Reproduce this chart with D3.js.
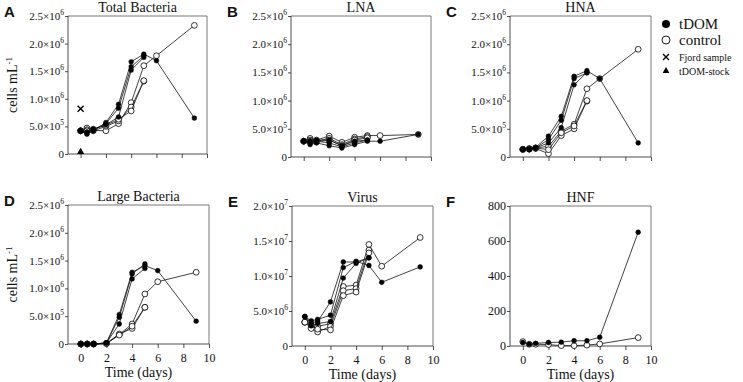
<!DOCTYPE html>
<html>
<head>
<meta charset="utf-8">
<script src="https://cdn.jsdelivr.net/npm/d3@7"></script>
<style>
  body { margin: 0; background: #fff; }
  svg, svg text { font-family: "Liberation Serif", "Times New Roman", Times, "DejaVu Serif", serif; }
  text { fill: #111; }
  .letter { font-family: "Liberation Sans", Arial, Helvetica, sans-serif !important; font-weight: bold; }
</style>
</head>
<body>
<div id="root"></div>
<script>
// sampling days: full series (one replicate followed to day 9) and short series
const days = [0, 0.5, 1, 2, 3, 4, 5, 6, 9];
const daysShort = [0, 0.5, 1, 2, 3, 4, 5];

// Total bacteria (cells/mL)
const totalTdom = [
  [4.2e5, 3.6e5, 4.2e5, 5.7e5, 9.0e5, 1.67e6, 1.81e6, 1.69e6, 6.5e5],
  [4.2e5, 3.8e5, 4.4e5, 5.5e5, 8.3e5, 1.58e6, 1.78e6],
  [4.2e5, 4.0e5, 4.5e5, 5.3e5, 6.7e5, 1.52e6, 1.75e6]
];
const totalCtrl = [
  [4.2e5, 4.7e5, 4.3e5, 4.2e5, 5.5e5, 9.3e5, 1.60e6, 1.78e6, 2.33e6],
  [4.2e5, 4.4e5, 4.2e5, 5.0e5, 6.0e5, 8.5e5, 1.32e6],
  [4.2e5, 4.2e5, 4.5e5, 5.2e5, 6.3e5, 7.8e5, 1.33e6]
];
const fjordSample = 8.2e5;
const tdomStock = 2e4;

// LNA
const lnaTdom = [
  [2.8e5, 2.2e5, 2.5e5, 2.0e5, 1.6e5, 2.2e5, 2.8e5, 2.8e5, 4.0e5],
  [2.8e5, 2.5e5, 2.8e5, 2.5e5, 1.8e5, 2.5e5, 3.0e5],
  [2.8e5, 2.8e5, 3.0e5, 3.0e5, 2.0e5, 2.8e5, 3.0e5]
];
const lnaCtrl = [
  [2.8e5, 3.3e5, 3.0e5, 3.7e5, 2.6e5, 3.5e5, 3.8e5, 3.8e5, 4.0e5],
  [2.8e5, 3.0e5, 2.8e5, 3.3e5, 2.2e5, 3.2e5, 3.6e5],
  [2.8e5, 2.8e5, 2.7e5, 3.0e5, 2.0e5, 3.0e5, 3.4e5]
];

// HNA
const hnaTdom = [
  [1.35e5, 1.5e5, 1.7e5, 3.7e5, 7.2e5, 1.43e6, 1.53e6, 1.39e6, 2.5e5],
  [1.35e5, 1.4e5, 1.6e5, 3.1e5, 6.5e5, 1.39e6, 1.49e6],
  [1.35e5, 1.3e5, 1.6e5, 2.5e5, 5.2e5, 1.28e6, 1.50e6]
];
const hnaCtrl = [
  [1.35e5, 1.4e5, 1.6e5, 1.9e5, 4.6e5, 5.8e5, 1.21e6, 1.39e6, 1.91e6],
  [1.35e5, 1.4e5, 1.5e5, 6e4, 3.8e5, 5.0e5, 9.9e5],
  [1.35e5, 1.5e5, 1.6e5, 1.3e5, 4.3e5, 5.5e5, 1.0e6]
];

// Large bacteria
const largeTdom = [
  [0, 0, 0, 2e4, 5.3e5, 1.29e6, 1.41e6, 1.32e6, 4.1e5],
  [0, 0, 0, 2e4, 4.8e5, 1.26e6, 1.44e6],
  [0, 0, 0, 2e4, 3.6e5, 1.17e6, 1.36e6]
];
const largeCtrl = [
  [0, 0, 0, 1e4, 1.7e5, 3.6e5, 9.0e5, 1.12e6, 1.29e6],
  [0, 0, 0, 1e4, 1.8e5, 2.8e5, 6.6e5],
  [0, 0, 0, 1e4, 1.6e5, 3.2e5, 6.6e5]
];

// Virus
const virusTdom = [
  [4.2e6, 3.6e6, 3.8e6, 4.4e6, 11.2e6, 12.1e6, 11.5e6, 9.1e6, 11.3e6],
  [4.2e6, 3.3e6, 3.5e6, 6.3e6, 12.0e6, 12.0e6, 12.6e6],
  [4.2e6, 2.9e6, 3.2e6, 3.5e6, 9.7e6, 11.8e6, 12.6e6]
];
const virusCtrl = [
  [3.4e6, 2.6e6, 2.8e6, 3.2e6, 8.5e6, 8.7e6, 14.5e6, 11.4e6, 15.5e6],
  [3.4e6, 2.5e6, 2.0e6, 2.8e6, 7.9e6, 8.2e6, 13.7e6],
  [3.4e6, 3.0e6, 2.4e6, 2.3e6, 7.2e6, 7.7e6, 13.3e6]
];

// HNF (cells/mL)
const hnfTdom = [[20, 10, 15, 20, 22, 30, 30, 50, 650]];
const hnfCtrl = [[25, 10, 10, 8, 2, 2, 5, 12, 48]];

const xTicks = [0, 2, 4, 6, 8, 10];
const legendLabels = ["tDOM", "control", "Fjord sample", "tDOM-stock"];

const W = 743, H = 382;
const svg = d3.select("#root").append("svg").attr("width", W).attr("height", H);

// scientific tick label like 2.5x10^6
function sciLabel(sel, v) {
  if (v === 0) { sel.text("0"); return; }
  const e = Math.floor(Math.log10(v));
  const m = (v / Math.pow(10, e)).toFixed(1);
  sel.append("tspan").text(m + "\u00d710");
  sel.append("tspan").attr("dy", -5).style("font-size", "7.5px").text(e);
}

const panels = [
  { letter: "A", title: "Total Bacteria", tdom: totalTdom, ctrl: totalCtrl, yMax: 2.5e6, yTicks: [0, 5e5, 1e6, 1.5e6, 2e6, 2.5e6],
    x0: 68, x1: 207, y0: 16, y1: 154, ylab: true, xlab: false, extra: true },
  { letter: "B", title: "LNA", tdom: lnaTdom, ctrl: lnaCtrl, yMax: 2.5e6, yTicks: [0, 5e5, 1e6, 1.5e6, 2e6, 2.5e6],
    x0: 291, x1: 431, y0: 16, y1: 157, ylab: false, xlab: false },
  { letter: "C", title: "HNA", tdom: hnaTdom, ctrl: hnaCtrl, yMax: 2.5e6, yTicks: [0, 5e5, 1e6, 1.5e6, 2e6, 2.5e6],
    x0: 510, x1: 651, y0: 16, y1: 157, ylab: false, xlab: false },
  { letter: "D", title: "Large Bacteria", tdom: largeTdom, ctrl: largeCtrl, yMax: 2.5e6, yTicks: [0, 5e5, 1e6, 1.5e6, 2e6, 2.5e6],
    x0: 68, x1: 209, y0: 205, y1: 344, ylab: true, xlab: true },
  { letter: "E", title: "Virus", tdom: virusTdom, ctrl: virusCtrl, yMax: 2e7, yTicks: [0, 5e6, 1e7, 1.5e7, 2e7],
    x0: 292, x1: 433, y0: 206, y1: 346, ylab: false, xlab: true },
  { letter: "F", title: "HNF", tdom: hnfTdom, ctrl: hnfCtrl, yMax: 800, yTicks: [0, 200, 400, 600, 800],
    x0: 510, x1: 651, y0: 206, y1: 346, ylab: false, xlab: true, plain: true }
];

panels.forEach(p => {
  const x = d3.scaleLinear().domain([-1, 10]).range([p.x0, p.x1]);
  const y = d3.scaleLinear().domain([0, p.yMax]).range([p.y1, p.y0]);
  const g = svg.append("g");

  // frame (top + right)
  g.append("path")
    .attr("d", `M${p.x0},${p.y0}H${p.x1}V${p.y1}`)
    .attr("fill", "none").attr("stroke", "#555").attr("stroke-width", 0.8);

  // y axis
  const ya = g.append("g").attr("transform", `translate(${p.x0},0)`)
    .call(d3.axisLeft(y).tickValues(p.yTicks).tickSize(3).tickFormat(""));
  ya.selectAll("text").remove();
  ya.selectAll("path, line").attr("stroke", "#222").attr("stroke-width", 0.8);
  ya.select(".domain").attr("d", `M0,${p.y1}V${p.y0}`);
  p.yTicks.forEach(v => {
    const t = g.append("text")
      .attr("x", p.x0 - 4).attr("y", y(v) + 4)
      .attr("text-anchor", "end")
      .style("font-size", p.plain ? "12px" : "11px");
    if (p.plain) t.text(v); else sciLabel(t, v);
  });

  // x axis
  const xa = g.append("g").attr("transform", `translate(0,${p.y1})`)
    .attr("font-family", null)
    .call(d3.axisBottom(x).tickValues(xTicks).tickSize(4).tickSizeOuter(0)
      .tickFormat(p.xlab ? d3.format("d") : ""));
  xa.attr("font-family", null).attr("font-size", null);
  xa.selectAll("path, line").attr("stroke", "#222").attr("stroke-width", 0.8);
  xa.select(".domain").attr("d", `M${p.x0},0H${p.x1}`);
  xa.selectAll("text").style("font-size", "12px")
    .attr("fill", "#111").attr("dy", "0.9em");

  if (p.xlab) {
    g.append("text").attr("x", (p.x0 + p.x1) / 2).attr("y", p.y1 + 33)
      .attr("text-anchor", "middle").style("font-size", "14px").text("Time (days)");
  }
  if (p.ylab) {
    const yl = g.append("text")
      .attr("transform", `translate(17,${(p.y0 + p.y1) / 2}) rotate(-90)`)
      .attr("text-anchor", "middle").style("font-size", "14px");
    yl.append("tspan").text("cells mL");
    yl.append("tspan").attr("dy", -5).style("font-size", "9px").text("-1");
  }

  // title and panel letter
  g.append("text").attr("x", (p.x0 + p.x1) / 2).attr("y", p.y0 - 4)
    .attr("text-anchor", "middle").style("font-size", "14px").text(p.title);
  g.append("text").attr("class", "letter").attr("x", p.x0 - 64).attr("y", p.y0 + 1)
    .style("font-size", "15px").text(p.letter);

  const line = d3.line().x(d => x(d[0])).y(d => y(d[1]));
  const toPts = arr => arr.map((v, i) => [(arr.length > 7 ? days : daysShort)[i], v]);

  // control series (open) then tDOM (filled)
  [[p.ctrl, false], [p.tdom, true]].forEach(([series, filled]) => {
    series.forEach(s => {
      const pts = toPts(s);
      g.append("path").attr("d", line(pts))
        .attr("fill", "none").attr("stroke", "#111").attr("stroke-width", 0.8);
      g.selectAll(null).data(pts).enter().append("circle")
        .attr("cx", d => x(d[0])).attr("cy", d => y(d[1]))
        .attr("r", filled ? 2.4 : 2.9)
        .attr("fill", filled ? "#000" : "#fff")
        .attr("stroke", "#000").attr("stroke-width", filled ? 0.5 : 0.8);
    });
  });

  if (p.extra) {
    const cx = x(0), cy = y(fjordSample), s = 3;
    g.append("path").attr("d", `M${cx - s},${cy - s}L${cx + s},${cy + s}M${cx + s},${cy - s}L${cx - s},${cy + s}`)
      .attr("stroke", "#000").attr("stroke-width", 1.4);
    g.append("path").attr("d", d3.symbol(d3.symbolTriangle, 22)())
      .attr("transform", `translate(${x(0)},${y(tdomStock) - 1})`).attr("fill", "#000");
  }
});

// legend
const lg = svg.append("g");
const lx = 666, ly = [24, 40, 57, 71];
lg.append("circle").attr("cx", lx).attr("cy", ly[0]).attr("r", 4).attr("fill", "#000");
lg.append("circle").attr("cx", lx).attr("cy", ly[1]).attr("r", 4).attr("fill", "#fff")
  .attr("stroke", "#000").attr("stroke-width", 0.9);
lg.append("path").attr("d", `M${lx - 3},${ly[2] - 3}L${lx + 3},${ly[2] + 3}M${lx + 3},${ly[2] - 3}L${lx - 3},${ly[2] + 3}`)
  .attr("stroke", "#000").attr("stroke-width", 1.4);
lg.append("path").attr("d", d3.symbol(d3.symbolTriangle, 20)())
  .attr("transform", `translate(${lx},${ly[3]})`).attr("fill", "#000");
legendLabels.forEach((t, i) => {
  lg.append("text").attr("x", 679).attr("y", ly[i] + (i < 2 ? 4.5 : 3.5))
    .style("font-size", i < 2 ? "15px" : "10px").text(t);
});
</script>
</body>
</html>
